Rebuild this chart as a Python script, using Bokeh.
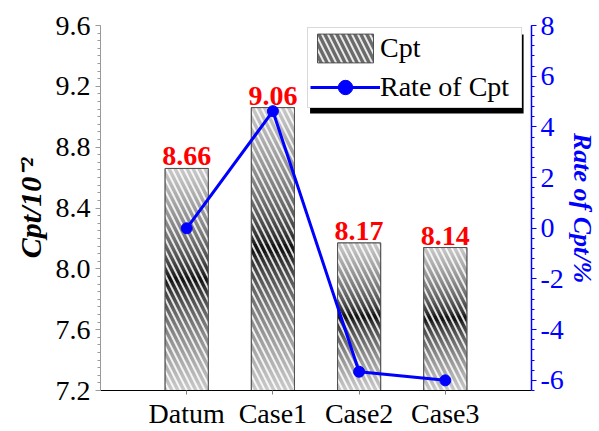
import numpy as np
from bokeh.plotting import figure
from bokeh.models import (Range1d, LinearAxis, FixedTicker, Legend, LegendItem,
                          BoxAnnotation, PrintfTickFormatter)
from bokeh.core.properties import value
from bokeh.embed import file_html
from bokeh.resources import INLINE

# ---- data ----
categories = ["Datum", "Case1", "Case2", "Case3"]
cpt = [8.66, 9.06, 8.17, 8.14]            # Cpt / 10^-2
rate = [0.0, 4.62, -5.66, -6.00]          # change of Cpt vs. Datum, %
cpt_ticks = [7.2, 7.6, 8.0, 8.4, 8.8, 9.2, 9.6]
rate_ticks = [-6, -4, -2, 0, 2, 4, 6, 8]

FONT = "Liberation Serif"
BLUE = "#0000ff"
RED = "#ff0000"

Y0, Y1 = 7.2, 9.6
R0, R1 = -6.4, 8.0
X0, X1 = 0, len(categories) + 1
BAR_W = 0.5
xs = list(range(1, len(categories) + 1))

# frame geometry in pixels (used to place the legend shadow)
FL, FR, FT, FB = 100, 536, 25, 390


def px_to_x(px):
    return X0 + (px - FL) / (FR - FL) * (X1 - X0)


def py_to_y(py):
    return Y0 + (FB - py) / (FB - FT) * (Y1 - Y0)


p = figure(width=599, height=431, x_range=Range1d(X0, X1), y_range=Range1d(Y0, Y1),
           output_backend="svg", toolbar_location=None,
           min_border_left=FL, min_border_right=599 - FR,
           min_border_top=FT, min_border_bottom=431 - FB)
p.extra_y_ranges = {"rate": Range1d(R0, R1)}
p.outline_line_color = None
p.xgrid.visible = False
p.ygrid.visible = False
p.background_fill_color = "white"
p.border_fill_color = "white"

HATCH = dict(hatch_pattern="\\", hatch_color="white", hatch_weight=2,
             hatch_scale=12, hatch_alpha=0.85)

# ---- bars: grey base (also the legend swatch), vertical gradient, hatching ----
bars = p.vbar(x=xs, top=cpt, bottom=Y0, width=BAR_W, fill_color="#6a6a6a",
              line_color="#505050", line_width=1, **HATCH)

N = 64
d = np.abs(np.linspace(-1.0, 1.0, N))
g = (200 * d ** 0.55).astype(np.uint32)
grad = ((255 << 24) | (g << 16) | (g << 8) | g).astype(np.uint32).reshape(N, 1)
p.image_rgba(image=[grad] * len(cpt),
             x=[x - BAR_W / 2 for x in xs], y=[Y0] * len(cpt),
             dw=[BAR_W] * len(cpt), dh=[v - Y0 for v in cpt])

p.vbar(x=xs, top=cpt, bottom=Y0, width=BAR_W, fill_alpha=0,
       line_color="#505050", line_width=1, **HATCH)

# value labels
p.text(x=xs, y=cpt, text=[f"{v:.2f}" for v in cpt], text_align="center",
       text_baseline="bottom", y_offset=-3, text_font=value(FONT),
       text_font_style="bold", text_font_size="28px", text_color=RED)

# ---- rate line on the right axis ----
line_r = p.line(xs, rate, y_range_name="rate", line_color=BLUE, line_width=3)
dot_r = p.scatter(xs, rate, y_range_name="rate", size=11, fill_color=BLUE,
                  line_color=BLUE)

# ---- axes ----
xax = p.xaxis[0]
xax.ticker = FixedTicker(ticks=xs, minor_ticks=[])
xax.major_label_overrides = {x: c for x, c in zip(xs, categories)}
xax.axis_line_color = "black"
xax.major_tick_line_color = "#808080"
xax.major_tick_out = 4
xax.major_tick_in = 0
xax.minor_tick_line_color = None
xax.major_label_standoff = 3
xax.major_label_text_font = FONT
xax.major_label_text_font_size = "28px"
xax.major_label_text_color = "black"

yax = p.yaxis[0]
yax.ticker = FixedTicker(ticks=cpt_ticks,
                         minor_ticks=list(np.round(np.arange(Y0, Y1 + 1e-9, 0.05), 2)))
yax.formatter = PrintfTickFormatter(format="%.1f")
yax.axis_line_color = "#9a9a9a"
yax.major_tick_line_color = "#9a9a9a"
yax.minor_tick_line_color = "#9a9a9a"
yax.major_tick_out = 5
yax.major_tick_in = 0
yax.minor_tick_out = 3
yax.minor_tick_in = 0
yax.major_label_standoff = 5
yax.major_label_text_font = FONT
yax.major_label_text_font_size = "28px"
yax.major_label_text_color = "black"
yax.axis_label = "Cpt/10\u207b\u00b2"
yax.axis_label_standoff = 6
yax.axis_label_text_font = FONT
yax.axis_label_text_font_style = "bold italic"
yax.axis_label_text_font_size = "30px"
yax.axis_label_text_color = "black"

rax = LinearAxis(y_range_name="rate",
                 ticker=FixedTicker(ticks=rate_ticks,
                                    minor_ticks=list(np.round(np.arange(R0, R1 + 1e-9, 0.4), 2))),
                 formatter=PrintfTickFormatter(format="%d"))
rax.axis_line_color = BLUE
rax.axis_line_width = 1.5
rax.major_tick_line_color = BLUE
rax.minor_tick_line_color = BLUE
rax.major_tick_out = 5
rax.major_tick_in = 0
rax.minor_tick_out = 3
rax.minor_tick_in = 0
rax.major_label_standoff = 4
rax.major_label_text_font = FONT
rax.major_label_text_font_size = "28px"
rax.major_label_text_color = BLUE
rax.axis_label = "Rate of Cpt/%"
rax.axis_label_standoff = 1
rax.axis_label_text_font = FONT
rax.axis_label_text_font_style = "bold italic"
rax.axis_label_text_font_size = "26px"
rax.axis_label_text_color = BLUE
p.add_layout(rax, "right")

# ---- legend with drop shadow ----
p.add_layout(BoxAnnotation(left=px_to_x(312), right=px_to_x(528),
                           top=py_to_y(34), bottom=py_to_y(113),
                           fill_color="black", fill_alpha=1, line_color=None))

legend = Legend(items=[LegendItem(label="Cpt", renderers=[bars]),
                       LegendItem(label="Rate of Cpt", renderers=[line_r, dot_r])],
                location=(307 - FL, FB - 108), orientation="vertical",
                glyph_width=70, glyph_height=36, label_standoff=0,
                label_width=139, padding=2, spacing=3, margin=0,
                border_line_color="#b4b4b4", border_line_width=1,
                background_fill_color="white", background_fill_alpha=1,
                label_text_font=FONT, label_text_font_size="28px",
                label_text_color="black")
p.add_layout(legend)

open("out.html", "w").write(file_html(p, INLINE))
